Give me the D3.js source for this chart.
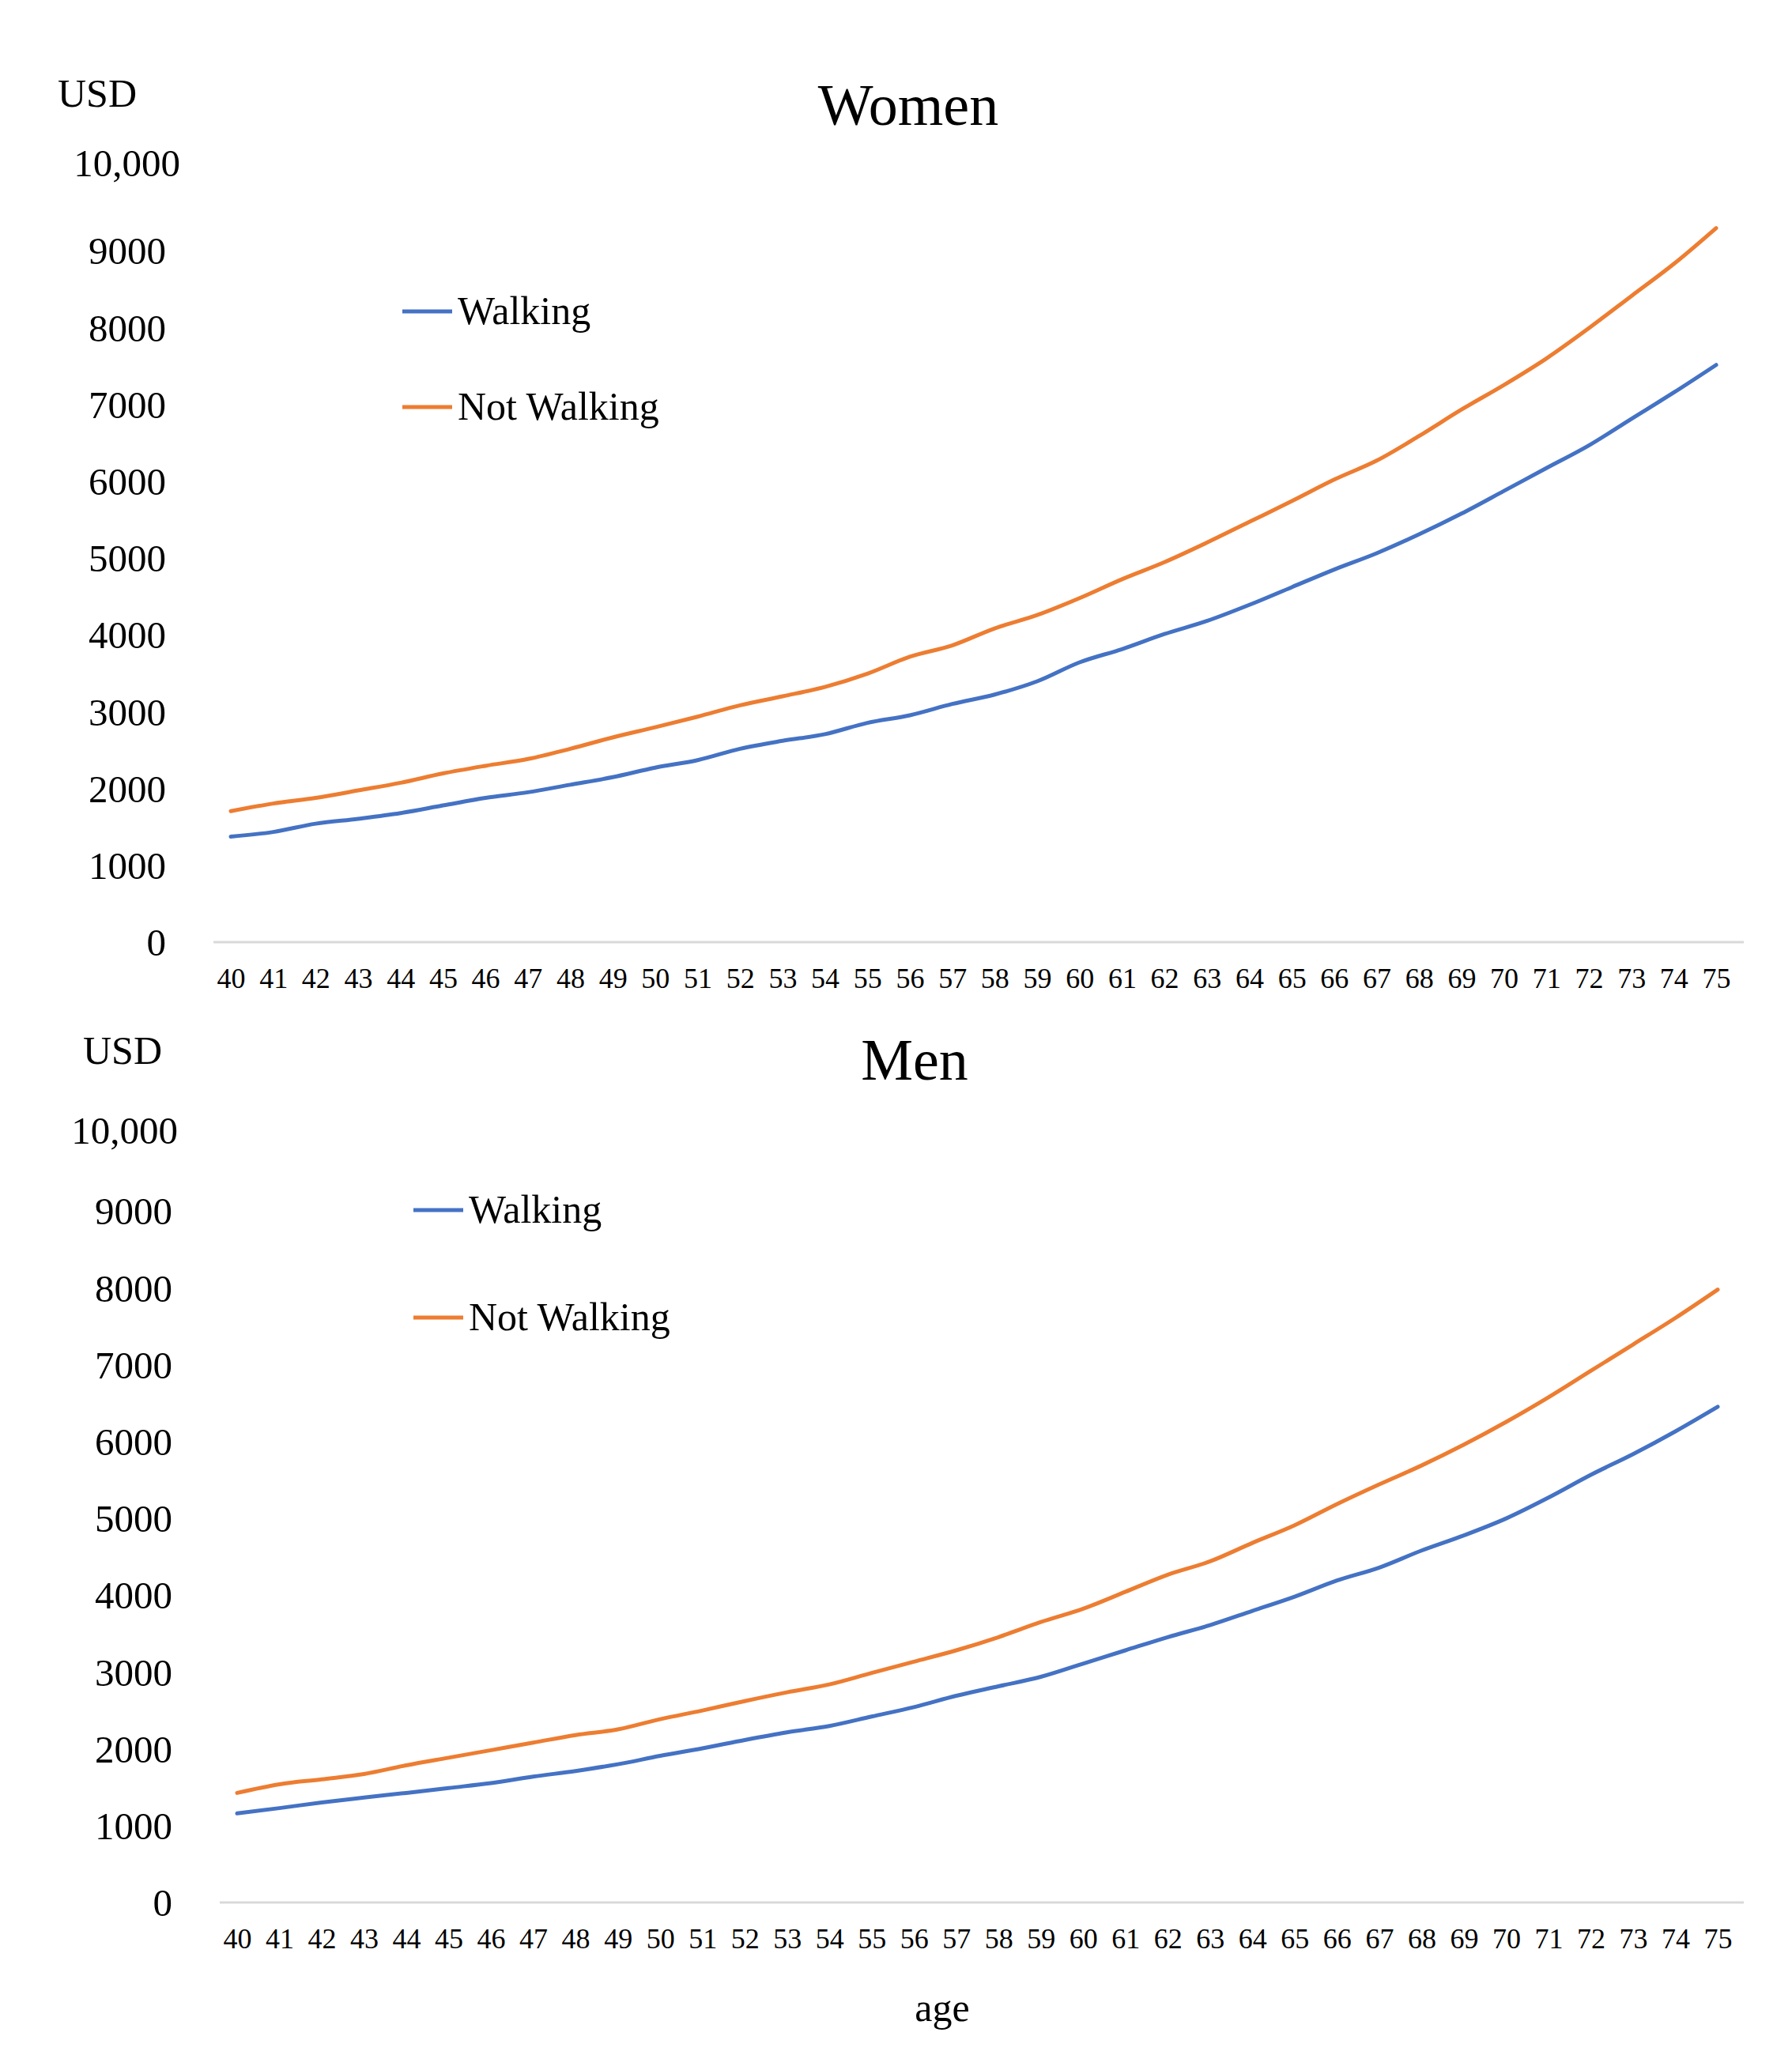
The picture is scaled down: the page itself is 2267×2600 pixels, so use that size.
<!DOCTYPE html>
<html>
<head>
<meta charset="utf-8">
<script src="https://cdn.jsdelivr.net/npm/d3@7"></script>
<style>
  body { margin: 0; background: #ffffff; }
  text { font-family: "Liberation Serif", "Times New Roman", serif; fill: #000000; }
</style>
</head>
<body>
<svg id="chart" width="2267" height="2600"></svg>
<script>
/******************************************************************************/
/* data */

var ages = [40,41,42,43,44,45,46,47,48,49,50,51,52,53,54,55,56,57,58,59,
            60,61,62,63,64,65,66,67,68,69,70,71,72,73,74,75];

var womenWalking = [1374,1434,1542,1606,1680,1779,1877,1951,2049,2147,2271,2369,
                    2517,2620,2707,2854,2953,3100,3223,3395,3642,3814,4010,4180,
                    4390,4620,4850,5062,5308,5578,5873,6170,6465,6810,7153,7513];

var womenNotWalking = [1705,1804,1877,1975,2074,2196,2295,2384,2517,2665,2797,2935,
                       3083,3200,3322,3494,3715,3863,4084,4257,4478,4724,4946,5200,
                       5470,5740,6020,6267,6588,6932,7252,7597,7991,8409,8827,9295];

var menWalking = [1159,1228,1302,1366,1426,1490,1553,1638,1711,1799,1908,2006,
                  2115,2215,2297,2420,2543,2690,2814,2937,3109,3282,3454,3610,
                  3795,3980,4190,4359,4581,4778,4999,5270,5566,5836,6132,6452];

var menNotWalking = [1426,1539,1603,1672,1785,1884,1982,2080,2179,2253,2386,2499,
                     2621,2735,2838,2987,3134,3282,3454,3650,3823,4044,4266,4440,
                     4680,4910,5185,5442,5688,5959,6255,6575,6919,7263,7608,7977];

var yTicks = [0,1000,2000,3000,4000,5000,6000,7000,8000,9000,10000];
var yTickLabels = ["0","1000","2000","3000","4000","5000","6000","7000","8000","9000","10,000"];

var seriesNames = ["Walking", "Not Walking"];
var seriesColors = ["#4472C4", "#ED7D31"];

/******************************************************************************/
/* one panel */

function drawPanel(svg, p){
  var g = svg.append('g');

  var x = d3.scalePoint().domain(ages).range([p.x0, p.x1]);
  var y = d3.scaleLinear().domain([0, 10000]).range([p.yBase, p.yBase - 972]);

  // baseline of the plot area
  g.append('line')
    .attr('x1', p.frameLeft).attr('x2', p.frameRight)
    .attr('y1', y(0)).attr('y2', y(0))
    .style('stroke', '#d9d9d9').style('stroke-width', 3);

  // y axis (labels only)
  var yAxis = g.append('g')
    .attr('transform', 'translate(' + p.frameLeft + ',0)')
    .call(d3.axisLeft(y).tickValues(yTicks).tickSize(0).tickPadding(60)
      .tickFormat(function(d){ return yTickLabels[yTicks.indexOf(d)]; }));
  yAxis.select('.domain').remove();
  yAxis.selectAll('text')
    .style('font-size', '49px').style('font-family', '"Liberation Serif", serif').style('fill', '#000')
    .attr('dy', '0.34em');
  // the top label sits a little off the grid in the source figure
  yAxis.selectAll('.tick').filter(function(d){ return d === 10000; }).select('text')
    .attr('dx', p.topDx).attr('dy', p.topDy);

  // x axis (labels only)
  var xAxis = g.append('g')
    .attr('transform', 'translate(0,' + y(0) + ')')
    .call(d3.axisBottom(x).tickSize(0).tickPadding(58));
  xAxis.select('.domain').remove();
  xAxis.selectAll('text')
    .attr('dy', 0)
    .style('font-size', '36px').style('font-family', '"Liberation Serif", serif').style('fill', '#000');

  // lines
  var series = [p.walking, p.notWalking];
  var line = d3.line()
    .x(function(d, i){ return x(ages[i]); })
    .y(function(d){ return y(d); })
    .curve(d3.curveMonotoneX);
  for(var s = 0; s < series.length; s++){
    g.append('path')
      .datum(series[s])
      .attr('d', line)
      .style('fill', 'none')
      .style('stroke', seriesColors[s])
      .style('stroke-width', 5)
      .style('stroke-linecap', 'round');
  }

  // legend
  for(var k = 0; k < seriesNames.length; k++){
    var ly = p.legendY[k];
    g.append('line')
      .attr('x1', p.legendX).attr('x2', p.legendX + 63)
      .attr('y1', ly).attr('y2', ly)
      .style('stroke', seriesColors[k]).style('stroke-width', 5);
    g.append('text')
      .attr('x', p.legendX + 70).attr('y', ly + 16)
      .style('font-size', '50px')
      .text(seriesNames[k]);
  }

  // unit + title
  g.append('text').attr('x', p.usdX).attr('y', p.usdY).style('font-size', '50px').text('USD');
  g.append('text').attr('x', p.titleX).attr('y', p.titleY)
    .attr('text-anchor', 'middle').style('font-size', '74px').text(p.title);
}

/******************************************************************************/
/* build */

var svg = d3.select('#chart');

drawPanel(svg, {
  title: 'Women', walking: womenWalking, notWalking: womenNotWalking,
  x0: 292, x1: 2171, yBase: 1192, frameLeft: 270, frameRight: 2206,
  topDx: 18, topDy: '0.06em',
  legendX: 509, legendY: [394, 515],
  usdX: 73, usdY: 135, titleX: 1149, titleY: 158
});

drawPanel(svg, {
  title: 'Men', walking: menWalking, notWalking: menNotWalking,
  x0: 300, x1: 2173, yBase: 2407, frameLeft: 278, frameRight: 2206,
  topDx: 7, topDy: '0.24em',
  legendX: 523, legendY: [1531, 1667],
  usdX: 105, usdY: 1346, titleX: 1157, titleY: 1366
});

svg.append('text')
  .attr('x', 1192).attr('y', 2557)
  .attr('text-anchor', 'middle')
  .style('font-size', '50px')
  .text('age');
</script>
</body>
</html>
